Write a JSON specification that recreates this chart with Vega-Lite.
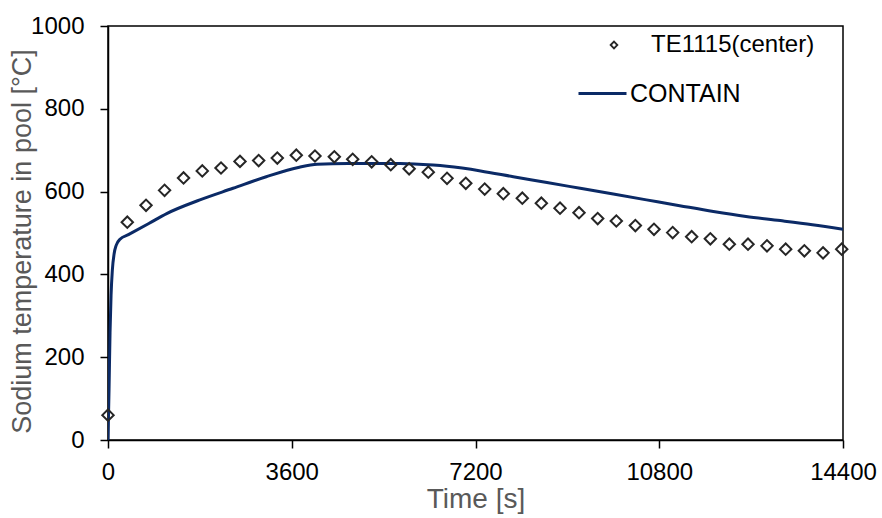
{
  "$schema": "https://vega.github.io/schema/vega-lite/v6.json",
  "width": 735,
  "height": 414,
  "autosize": {"type": "none"},
  "padding": {"left": 108, "top": 26, "right": 39, "bottom": 78},
  "background": "white",
  "config": {
    "view": {"stroke": "black", "strokeWidth": 1.5},
    "font": "Liberation Sans",
    "axis": {
      "grid": false,
      "domainColor": "black",
      "domainWidth": 1.5,
      "tickColor": "black",
      "tickWidth": 1.5,
      "tickSize": 8,
      "labelFont": "Liberation Sans",
      "labelFontSize": 24,
      "labelColor": "black",
      "titleFont": "Liberation Sans",
      "titleFontSize": 24,
      "titleFontWeight": "normal",
      "titleColor": "#595959"
    },
    "legend": {"padding": 0, "labelFont": "Liberation Sans", "labelFontSize": 24, "labelColor": "black", "labelLimit": 0}
  },
  "datasets": {
    "measured": [
      {"series": "TE1115(center)", "time": 0, "temp": 60},
      {"series": "TE1115(center)", "time": 378, "temp": 526},
      {"series": "TE1115(center)", "time": 745, "temp": 567},
      {"series": "TE1115(center)", "time": 1108, "temp": 603},
      {"series": "TE1115(center)", "time": 1480, "temp": 633},
      {"series": "TE1115(center)", "time": 1847, "temp": 650},
      {"series": "TE1115(center)", "time": 2214, "temp": 657},
      {"series": "TE1115(center)", "time": 2586, "temp": 673},
      {"series": "TE1115(center)", "time": 2952, "temp": 675},
      {"series": "TE1115(center)", "time": 3317, "temp": 681},
      {"series": "TE1115(center)", "time": 3689, "temp": 688},
      {"series": "TE1115(center)", "time": 4055, "temp": 686},
      {"series": "TE1115(center)", "time": 4434, "temp": 684},
      {"series": "TE1115(center)", "time": 4794, "temp": 678},
      {"series": "TE1115(center)", "time": 5166, "temp": 672},
      {"series": "TE1115(center)", "time": 5540, "temp": 665},
      {"series": "TE1115(center)", "time": 5900, "temp": 655},
      {"series": "TE1115(center)", "time": 6275, "temp": 647},
      {"series": "TE1115(center)", "time": 6642, "temp": 632},
      {"series": "TE1115(center)", "time": 7010, "temp": 620},
      {"series": "TE1115(center)", "time": 7380, "temp": 606},
      {"series": "TE1115(center)", "time": 7745, "temp": 595},
      {"series": "TE1115(center)", "time": 8117, "temp": 584},
      {"series": "TE1115(center)", "time": 8490, "temp": 572},
      {"series": "TE1115(center)", "time": 8856, "temp": 560},
      {"series": "TE1115(center)", "time": 9228, "temp": 549},
      {"series": "TE1115(center)", "time": 9594, "temp": 535},
      {"series": "TE1115(center)", "time": 9959, "temp": 529},
      {"series": "TE1115(center)", "time": 10332, "temp": 518},
      {"series": "TE1115(center)", "time": 10697, "temp": 509},
      {"series": "TE1115(center)", "time": 11063, "temp": 501},
      {"series": "TE1115(center)", "time": 11435, "temp": 491},
      {"series": "TE1115(center)", "time": 11801, "temp": 486},
      {"series": "TE1115(center)", "time": 12173, "temp": 473},
      {"series": "TE1115(center)", "time": 12539, "temp": 473},
      {"series": "TE1115(center)", "time": 12911, "temp": 469},
      {"series": "TE1115(center)", "time": 13277, "temp": 461},
      {"series": "TE1115(center)", "time": 13643, "temp": 457},
      {"series": "TE1115(center)", "time": 14009, "temp": 452},
      {"series": "TE1115(center)", "time": 14375, "temp": 461}
    ],
    "contain": [
      {"series": "CONTAIN", "time": 0, "temp": 0},
      {"series": "CONTAIN", "time": 20, "temp": 120},
      {"series": "CONTAIN", "time": 40, "temp": 260},
      {"series": "CONTAIN", "time": 60, "temp": 350},
      {"series": "CONTAIN", "time": 85, "temp": 410},
      {"series": "CONTAIN", "time": 120, "temp": 450},
      {"series": "CONTAIN", "time": 160, "temp": 470},
      {"series": "CONTAIN", "time": 235, "temp": 485},
      {"series": "CONTAIN", "time": 400, "temp": 496},
      {"series": "CONTAIN", "time": 800, "temp": 523},
      {"series": "CONTAIN", "time": 1150, "temp": 547},
      {"series": "CONTAIN", "time": 1800, "temp": 580},
      {"series": "CONTAIN", "time": 2450, "temp": 608},
      {"series": "CONTAIN", "time": 3100, "temp": 636},
      {"series": "CONTAIN", "time": 3750, "temp": 659},
      {"series": "CONTAIN", "time": 4100, "temp": 666},
      {"series": "CONTAIN", "time": 4700, "temp": 668},
      {"series": "CONTAIN", "time": 5300, "temp": 668},
      {"series": "CONTAIN", "time": 5720, "temp": 668},
      {"series": "CONTAIN", "time": 6370, "temp": 664},
      {"series": "CONTAIN", "time": 6640, "temp": 661},
      {"series": "CONTAIN", "time": 7300, "temp": 650},
      {"series": "CONTAIN", "time": 7940, "temp": 636},
      {"series": "CONTAIN", "time": 8600, "temp": 622},
      {"series": "CONTAIN", "time": 9250, "temp": 608},
      {"series": "CONTAIN", "time": 9900, "temp": 594},
      {"series": "CONTAIN", "time": 10550, "temp": 580},
      {"series": "CONTAIN", "time": 11200, "temp": 566},
      {"series": "CONTAIN", "time": 11860, "temp": 552},
      {"series": "CONTAIN", "time": 12500, "temp": 540},
      {"series": "CONTAIN", "time": 13170, "temp": 530},
      {"series": "CONTAIN", "time": 13800, "temp": 520},
      {"series": "CONTAIN", "time": 14400, "temp": 509}
    ]
  },
  "layer": [
    {
      "data": {"name": "contain"},
      "mark": {"type": "line", "strokeWidth": 3, "interpolate": "monotone", "clip": true},
      "encoding": {
        "x": {
          "field": "time", "type": "quantitative",
          "scale": {"domain": [0, 14400], "nice": false},
          "axis": {"values": [0, 3600, 7200, 10800, 14400], "format": "d", "title": "Time [s]", "titleFontSize": 28, "labelPadding": 12, "titlePadding": 1, "labelFlush": false}
        },
        "y": {
          "field": "temp", "type": "quantitative",
          "scale": {"domain": [0, 1000], "nice": false},
          "axis": {"values": [0, 200, 400, 600, 800, 1000], "format": "d", "title": "Sodium temperature in pool [°C]", "titleFontSize": 27, "titleY": 215, "labelPadding": 16, "titlePadding": -6}
        },
        "color": {
          "field": "series", "type": "nominal",
          "scale": {"domain": ["CONTAIN"], "range": ["#0b2a66"]},
          "legend": {"title": null, "orient": "none", "legendX": 469, "legendY": 42, "symbolType": "stroke", "symbolSize": 2304, "symbolStrokeWidth": 3, "labelOffset": 2, "labelFontSize": 25}
        }
      }
    },
    {
      "data": {"name": "measured"},
      "mark": {"type": "point", "shape": "diamond", "filled": false, "size": 130, "strokeWidth": 2, "opacity": 1},
      "encoding": {
        "x": {"field": "time", "type": "quantitative"},
        "y": {"field": "temp", "type": "quantitative"},
        "color": {
          "field": "series", "type": "nominal",
          "scale": {"domain": ["TE1115(center)"], "range": ["#262626"]},
          "legend": {"title": null, "orient": "none", "legendX": 494, "legendY": 7, "symbolType": "diamond", "symbolSize": 45, "symbolStrokeWidth": 1.8, "labelOffset": 25}
        }
      }
    }
  ],
  "resolve": {"scale": {"color": "independent"}}
}
